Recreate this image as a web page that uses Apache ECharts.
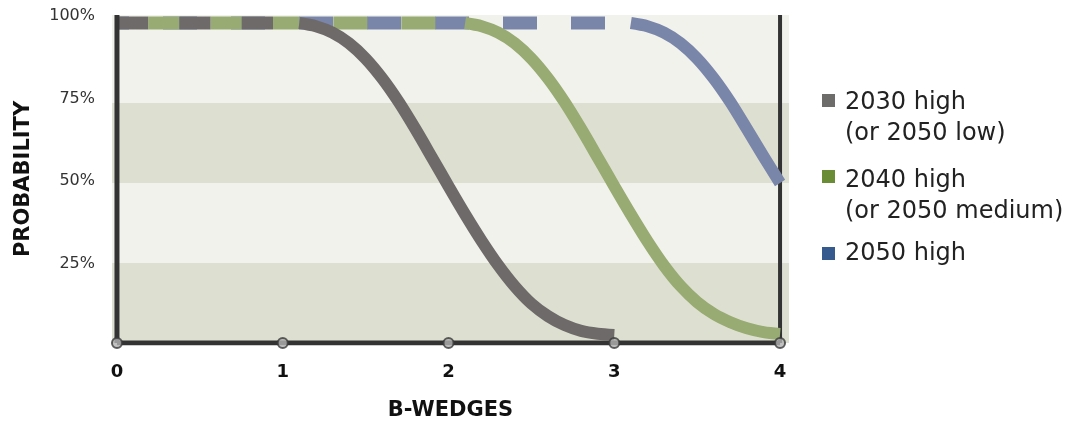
<!DOCTYPE html>
<html>
<head>
<meta charset="utf-8">
<script src="https://cdn.jsdelivr.net/npm/echarts@6/dist/echarts.min.js"></script>
<style>
html,body{margin:0;padding:0;background:#ffffff;}
#chart{width:1073px;height:423px;}
</style>
</head>
<body>
<div id="chart"></div>
<script>
// ---- data ----
const xTicks = [0, 1, 2, 3, 4];
const yTicks = [25, 50, 75, 100];
const seriesNames = ['2030 high\n(or 2050 low)', '2040 high\n(or 2050 medium)', '2050 high'];
const bands = [[0, 25], [50, 75]];

// flat (100%) part of each series, before it starts to fall
const grayFlatX = [0, 1.1];
const grayFlatY = [100, 100];
const greenFlatX = [0, 1.1, 2.1];
const greenFlatY = [100, 100, 100];
const blueFlatX = [0, 3.1];
const blueFlatY = [100, 100];

// falling part
const grayCurveX = [1.1, 1.2, 1.3, 1.4, 1.5, 1.6, 1.7, 1.8, 1.9, 2.0, 2.1, 2.2, 2.3, 2.4, 2.5, 2.6, 2.7, 2.8, 2.9, 3.0];
const grayCurveY = [100, 99, 97, 93.7, 88.9, 82.7, 75.3, 66.9, 58, 49, 40.2, 31.9, 24.3, 17.7, 12.3, 8.4, 5.6, 3.8, 2.9, 2.5];
const greenCurveX = [2.1, 2.2, 2.3, 2.4, 2.5, 2.6, 2.7, 2.8, 2.9, 3.0, 3.1, 3.2, 3.3, 3.4, 3.5, 3.6, 3.7, 3.8, 3.9, 4.0];
const greenCurveY = [100, 99, 97, 93.7, 88.9, 82.7, 75.3, 66.9, 58, 49, 40.2, 31.8, 24.2, 17.8, 12.8, 9.1, 6.5, 4.6, 3.4, 2.8];
const blueCurveX = [3.1, 3.2, 3.3, 3.4, 3.5, 3.6, 3.7, 3.8, 3.9, 4.0];
const blueCurveY = [100, 99, 97, 93.7, 88.9, 82.7, 75.3, 66.9, 58.3, 50];

const zip = (xs, ys) => xs.map((x, i) => [x, ys[i]]);

// ---- styles ----
const C_GRAY = '#6f6a6a', C_GREEN = '#98ab72', C_BLUE = '#7a85aa';
const L_GRAY = '#6e6b6b', L_GREEN = '#6a8c34', L_BLUE = '#365a8e';
const AXIS = '#333333';
const FONT = '"DejaVu Sans", sans-serif';

const chart = echarts.init(document.getElementById('chart'), null, {renderer: 'canvas'});

function flat(data, color, dash, offset) {
  return {
    type: 'line', data: data, symbol: 'none', z: 2, silent: true,
    lineStyle: {color: color, width: 13, type: dash, dashOffset: offset, cap: 'butt'}
  };
}
function curve(data, color) {
  return {
    type: 'line', data: data, symbol: 'none', z: 4, silent: true,
    smooth: 0.3,
    lineStyle: {color: color, width: 12, cap: 'butt', join: 'round'}
  };
}
function axisLine(data, width) {
  return {
    type: 'line', data: data, symbol: 'none', z: 3, silent: true,
    lineStyle: {color: AXIS, width: width, cap: 'butt'}
  };
}

const greenFlat = zip(greenFlatX, greenFlatY);

const option = {
  animation: false,
  backgroundColor: '#ffffff',
  grid: {left: 112, right: 284, top: 15, bottom: 80, outerBoundsMode: 'none', containLabel: false,
         show: true, backgroundColor: '#f1f2ec', borderWidth: 0},
  xAxis: {
    type: 'value', min: -0.03, max: 4.054,
    axisLine: {show: false}, axisTick: {show: false}, splitLine: {show: false},
    axisLabel: {customValues: xTicks, margin: 20, fontFamily: FONT, fontWeight: 'bold', fontSize: 18, color: '#111'},
    name: 'B-WEDGES', nameLocation: 'middle', nameGap: 57,
    nameTextStyle: {fontFamily: FONT, fontWeight: 'bold', fontSize: 21, color: '#111'}
  },
  yAxis: [
    {
      type: 'value', min: 0, max: 102.5,
      axisLine: {show: false}, axisTick: {show: false}, splitLine: {show: false},
      axisLabel: {show: false},
      name: 'PROBABILITY', nameLocation: 'middle', nameGap: 78, nameRotate: 90,
      nameTextStyle: {fontFamily: FONT, fontWeight: 'bold', fontSize: 21, color: '#111'}
    },
    {
      type: 'value', min: 1.1, max: 100.3, position: 'left',
      axisLine: {show: false}, axisTick: {show: false}, splitLine: {show: false},
      axisLabel: {customValues: yTicks, formatter: '{value}%', margin: 17, fontFamily: FONT, fontSize: 16, color: '#333'}
    }
  ],
  series: [
    {
      type: 'line', data: [], silent: true, z: 1,
      markArea: {
        silent: true, itemStyle: {color: '#dde0d1'},
        data: bands.map(b => [{yAxis: b[0]}, {yAxis: b[1]}])
      }
    },
    flat(zip(blueFlatX, blueFlatY), C_BLUE, [34, 34], 22),
    flat(greenFlat.slice(1, 3), C_GREEN, [34, 34], 34),
    flat(greenFlat.slice(0, 2), C_GREEN, [31.2, 31.2], 31.2),
    flat(zip(grayFlatX, grayFlatY), C_GRAY, [31.2, 31.2], 0),
    axisLine([[0, 0], [0, 102.5]], 5),
    axisLine([[4, 0], [4, 102.5]], 4),
    axisLine([[0, 0], [4, 0]], 5),
    curve(zip(blueCurveX, blueCurveY), C_BLUE),
    curve(zip(greenCurveX, greenCurveY), C_GREEN),
    curve(zip(grayCurveX, grayCurveY), C_GRAY),
    {
      type: 'scatter', data: xTicks.map(x => [x, 0]), z: 6, silent: true,
      symbol: 'circle', symbolSize: 10,
      itemStyle: {color: '#b3b3b3', borderColor: '#3a3a3a', borderWidth: 2}
    }
  ],
  graphic: [
    {type: 'rect', left: 822, top: 94, shape: {width: 13, height: 13}, style: {fill: L_GRAY}},
    {type: 'text', left: 845, top: 87, style: {text: seriesNames[0], fontFamily: FONT, fontSize: 24, lineHeight: 31, fill: '#222'}},
    {type: 'rect', left: 822, top: 170, shape: {width: 13, height: 13}, style: {fill: L_GREEN}},
    {type: 'text', left: 845, top: 165, style: {text: seriesNames[1], fontFamily: FONT, fontSize: 24, lineHeight: 31, fill: '#222'}},
    {type: 'rect', left: 822, top: 247, shape: {width: 13, height: 13}, style: {fill: L_BLUE}},
    {type: 'text', left: 845, top: 238, style: {text: seriesNames[2], fontFamily: FONT, fontSize: 24, lineHeight: 31, fill: '#222'}}
  ]
};
chart.setOption(option);
</script>
</body>
</html>
